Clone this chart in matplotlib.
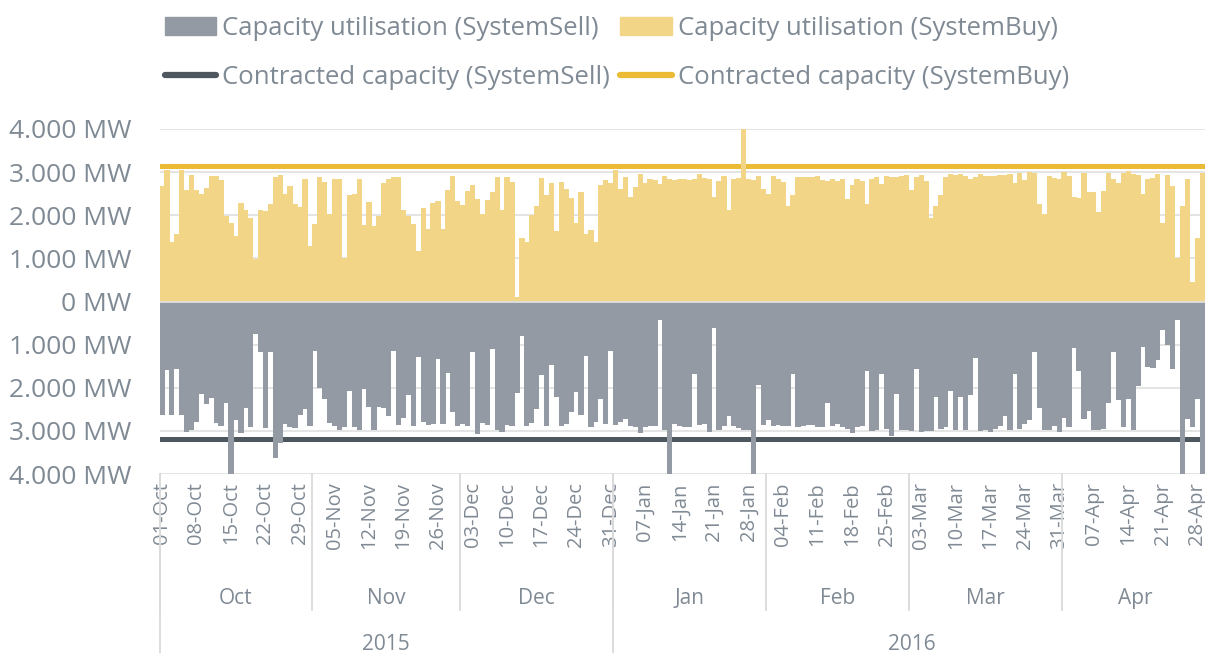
import numpy as np
import pandas as pd
import matplotlib
matplotlib.use("Agg")
import matplotlib.pyplot as plt
from matplotlib.ticker import FuncFormatter, FixedLocator
from matplotlib.patches import Patch
from matplotlib.lines import Line2D

plt.rcParams['font.family'] = ['Open Sans', 'DejaVu Sans']

# daily values (MW), 01-Oct-2015 .. 30-Apr-2016
start_date = "2015-10-01"

buy_util = [
    2670, 3050, 1370, 1560, 3060, 2580, 2930, 2580, 2490, 2630,
    2920, 2920, 2810, 1990, 1810, 1530, 2290, 2130, 1930, 980,
    2120, 2090, 2260, 2880, 2930, 2500, 2670, 2270, 2190, 2850,
    1290, 1790, 2890, 2770, 2020, 2850,
    2830, 1020, 2460, 2500, 2840, 1780, 2300, 1740, 1990, 2740,
    2830, 2880, 2890, 2130, 1990, 1790, 1170, 2160, 1670, 2290,
    2320, 1670, 2580, 2910, 2320, 2240, 2570, 2710, 2380, 2040,
    2360, 2530, 2880, 2120, 2880,
    2770, 100, 1480, 1370, 2010, 2220, 2860, 2460, 2740, 1640,
    2780, 2610, 2410, 1810, 2550, 1560, 1650, 1370, 2710, 2810,
    2750, 3060, 2600, 2880, 2430, 2660, 2950, 2740, 2830, 2810,
    2720, 2910, 2840, 2810, 2830,
    2840, 2810, 2840, 2950, 2860, 2840, 2430, 2800, 2910, 2130,
    2830, 2860, 4100, 2840, 2810, 2910, 2610, 2490, 2910, 2840,
    2780, 2220, 2470, 2880, 2880, 2890, 2890, 2910, 2810, 2800,
    2840, 2800, 2840, 2380, 2690, 2830,
    2800, 2260, 2830, 2890, 2720, 2910, 2880, 2890, 2910, 2940,
    2580, 2890, 2940, 2800, 1930, 2220, 2470, 2880, 2950, 2940,
    2950, 2910, 2840, 2880, 2950, 2910, 2920, 2920, 2940, 2940,
    2950, 2740, 2970, 2810, 3000, 2970,
    2260, 2040, 2920, 2870, 2840, 3000, 2920, 2430, 2400, 2970,
    2530, 2550, 2070, 2570, 2980, 2830, 2750, 2980, 3020, 2950,
    2940, 2500, 2830, 2860, 2950, 1810, 2940, 2670, 1000, 2220,
    2850, 460, 1480, 2980, 2980,
]

sell_util = [
    2630, 1590, 2640, 1570, 2640, 3020, 2980, 2800, 2150, 2380,
    2240, 2810, 2890, 2350, 4100, 2750, 3050, 2460, 2910, 750,
    1170, 2940, 1160, 3640, 3280, 2830, 2910, 2940, 2640, 2500,
    2880, 1140, 2010, 2270, 2810, 2890,
    2980, 2920, 2070, 2920, 2980, 2020, 2440, 2970, 2440, 2470,
    2660, 1140, 2860, 2690, 2160, 2890, 1290, 2800, 2860, 2840,
    1330, 2840, 1650, 2570, 2890, 2840, 2880, 1160, 3080, 2810,
    2860, 1090, 2970, 3020, 2860,
    2880, 2120, 790, 2890, 2810, 2500, 1700, 2890, 1470, 2210,
    2890, 2840, 2570, 2100, 2640, 1260, 2910, 2800, 2270, 2830,
    1140, 2860, 2800, 2720, 2880, 2910, 3050, 2910, 2880, 2880,
    440, 2970, 4100, 2840, 2880,
    2910, 2920, 1670, 2860, 2840, 3030, 610, 2970, 2890, 2660,
    2890, 2940, 2970, 2980, 4100, 1930, 2860, 2750, 2880, 2860,
    2890, 2880, 1680, 2910, 2880, 2860, 2860, 2910, 2920, 2360,
    2890, 2830, 2910, 2950, 3050, 2910,
    2880, 1620, 3000, 2970, 1680, 2950, 3110, 2150, 2970, 2970,
    3000, 1570, 3020, 3000, 3000, 2210, 2950, 2920, 2070, 2980,
    2220, 2980, 2160, 1310, 3000, 2980, 3030, 2950, 2890, 2660,
    2970, 1680, 2950, 2840, 2740, 1160,
    2470, 2980, 2970, 2880, 3030, 2710, 2920, 1080, 1620, 2720,
    2530, 2970, 2970, 2950, 2360, 1170, 2290, 2910, 2260, 2970,
    1950, 1060, 1510, 1540, 1360, 660, 1020, 1560, 430, 4100,
    2720, 2910, 2260, 4100, 4100,
]

contracted_buy = 3140
contracted_sell = 3190

labels = ["Capacity utilisation (SystemSell)", "Capacity utilisation (SystemBuy)",
          "Contracted capacity (SystemSell)", "Contracted capacity (SystemBuy)"]

c_buy = "#f2d587"
c_sell = "#939aa3"
c_buy_line = "#ebbb36"
c_sell_line = "#4e565e"
c_text = "#808a94"
c_grid = "#e2e2e2"

dates = pd.date_range(start_date, periods=len(buy_util), freq="D")
x = np.arange(len(dates))

W, H = 1205, 653
fig = plt.figure(figsize=(W / 100, H / 100), dpi=100)
ax = fig.add_axes([159.5 / W, (H - 474) / H, 1 - 159.5 / W, 345 / H])

# slightly overlapping, non antialiased bars -> no seams between days
ax.bar(x, buy_util, width=1.08, color=c_buy, linewidth=0, antialiased=False, zorder=3)
ax.bar(x, -np.array(sell_util), width=1.08, color=c_sell, linewidth=0, antialiased=False, zorder=3)
ax.hlines(contracted_buy, x[0] - 0.5, x[-1] + 0.5, color=c_buy_line, lw=3.6, zorder=2,
          capstyle="round")
ax.hlines(-contracted_sell, x[0] - 0.5, x[-1] + 0.5, color=c_sell_line, lw=3.6, zorder=2,
          capstyle="round")
ax.axhline(0, color="#dedede", lw=1.3, zorder=4)

ax.set_xlim(-0.5, -0.5 + (W - 159.5) / 4.93)
ax.set_ylim(-4000, 4000)
ax.yaxis.set_major_locator(FixedLocator(np.arange(-4000, 4001, 1000)))
ax.yaxis.set_major_formatter(FuncFormatter(lambda v, p: f"{abs(v):,.0f}".replace(",", ".") + " MW"))
ax.set_axisbelow(True)
ax.yaxis.grid(True, color=c_grid, lw=1.3, zorder=0)
for s in ax.spines.values():
    s.set_visible(False)

ax.set_xticks(x[::7])
ax.set_xticklabels(dates[::7].strftime("%d-%b"), rotation=90, va="top", ha="center")
ax.tick_params(axis="x", length=0, pad=6, labelsize=14.5, labelcolor=c_text)
ax.tick_params(axis="y", length=0, pad=20, labelsize=19, labelcolor=c_text)

# multi level category axis (month / year)
trans = ax.get_xaxis_transform()
sep_col = "#dadada"
months = pd.Series(x, index=dates).groupby([dates.year, dates.month])
for (yr, mo), grp in months:
    first, last = grp.iloc[0], grp.iloc[-1]
    ax.text((first + last) / 2, -0.36, dates[first].strftime("%b"), transform=trans,
            ha="center", va="center", fontsize=15, color=c_text)
    ax.plot([first - 0.5, first - 0.5], [0, -0.394], transform=trans, color=sep_col,
            lw=1.3, clip_on=False)
years = pd.Series(x, index=dates).groupby(dates.year)
for yr, grp in years:
    first, last = grp.iloc[0], grp.iloc[-1]
    ax.text((first + last) / 2, -0.495, str(yr), transform=trans,
            ha="center", va="center", fontsize=15, color=c_text)
    ax.plot([first - 0.5, first - 0.5], [0, -0.53], transform=trans, color=sep_col,
            lw=1.3, clip_on=False)

handles = [Patch(color=c_sell), Line2D([], [], color=c_sell_line, lw=4.5, solid_capstyle="round"),
           Patch(color=c_buy), Line2D([], [], color=c_buy_line, lw=4.5, solid_capstyle="round")]
leg_labels = [labels[0], labels[2], labels[1], labels[3]]
leg = fig.legend(handles, leg_labels, ncol=2, loc="upper left", bbox_to_anchor=(165 / W, 1 - 16 / H),
                 frameon=False, fontsize=18.5, handlelength=2.0, handleheight=0.66,
                 handletextpad=0.23, columnspacing=0.4, labelspacing=0.93,
                 borderpad=0, borderaxespad=0, labelcolor=c_text)

fig.savefig("out.png", dpi=100)
